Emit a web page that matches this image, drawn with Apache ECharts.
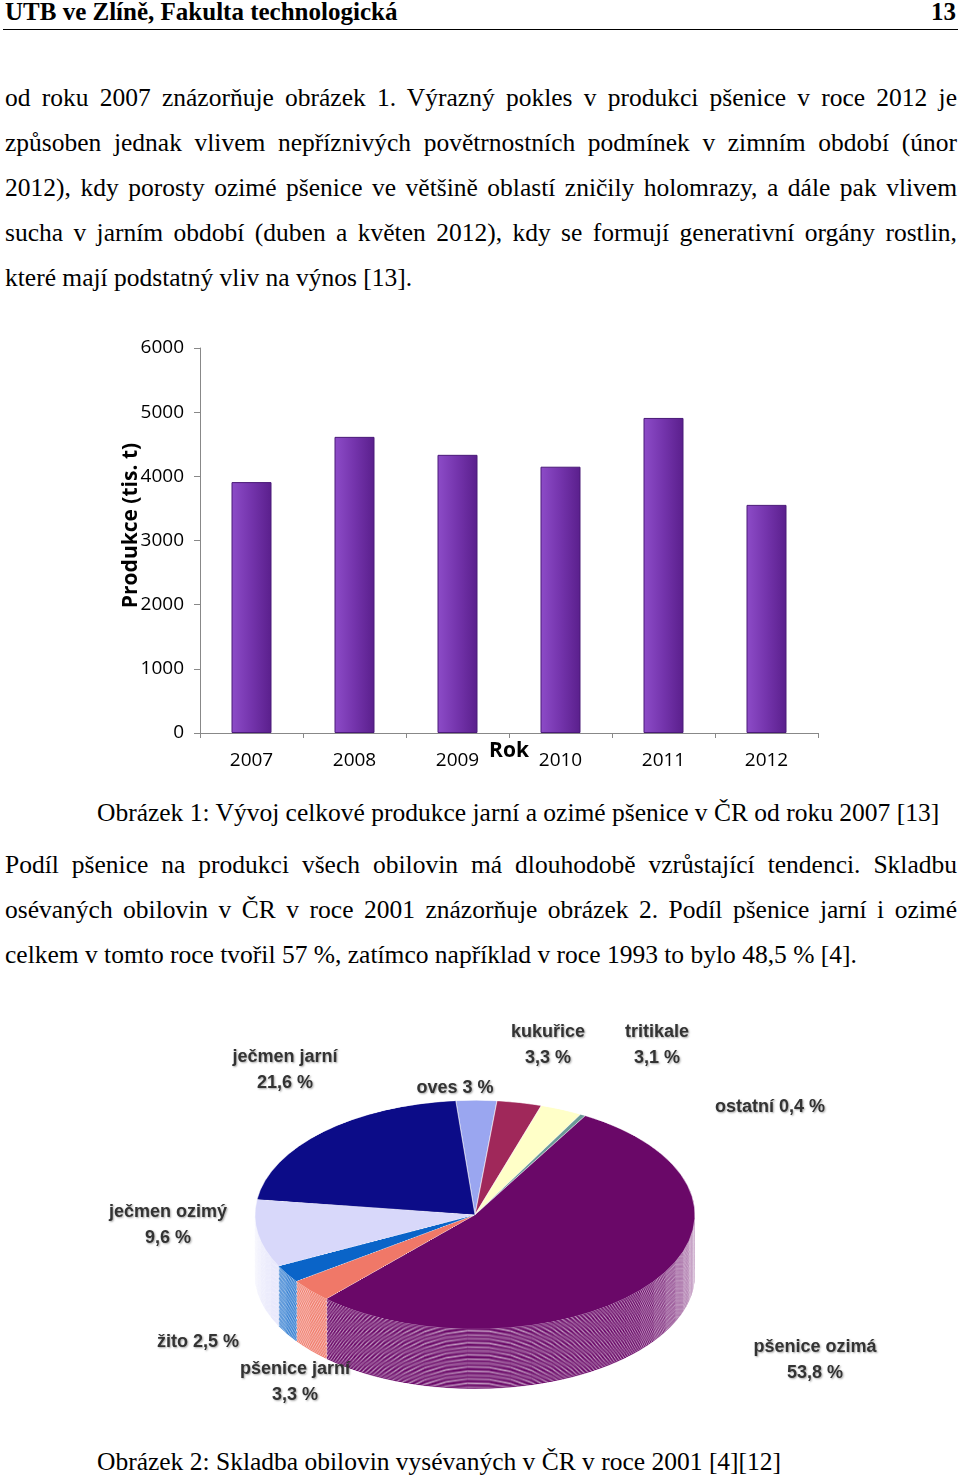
<!DOCTYPE html>
<html><head><meta charset="utf-8">
<script src="https://cdn.jsdelivr.net/npm/echarts@6/dist/echarts.min.js"></script>
<style>
body{margin:0;width:960px;height:1478px;position:relative;background:#fff;font-family:"Liberation Serif","DejaVu Serif",serif;overflow:hidden}
.l{position:absolute;left:5px;width:952px;font-size:25.5px;white-space:nowrap;text-align:justify;text-align-last:justify;line-height:30px}
.n{text-align-last:left}
#bar{position:absolute;left:0;top:320px;width:960px;height:470px}
#pie3{position:absolute;left:0;top:1000px;width:960px;height:800px;transform:scaleY(0.52);transform-origin:0 0}
#pielab{position:absolute;left:0;top:1000px;width:960px;height:430px}
</style></head><body>
<div style="position:absolute;left:5px;top:-2px;font-weight:bold;font-size:25px">UTB ve Zlíně, Fakulta technologická</div>
<div style="position:absolute;right:4px;top:-2px;font-weight:bold;font-size:25px">13</div>
<div style="position:absolute;left:3px;top:29px;width:955px;border-top:1.5px solid #000"></div>
<div class="l" style="top:83px">od roku 2007 znázorňuje obrázek 1. Výrazný pokles v produkci pšenice v roce 2012 je</div>
<div class="l" style="top:128px">způsoben jednak vlivem nepříznivých povětrnostních podmínek v zimním období (únor</div>
<div class="l" style="top:173px">2012), kdy porosty ozimé pšenice ve většině oblastí zničily holomrazy, a dále pak vlivem</div>
<div class="l" style="top:218px">sucha v jarním období (duben a květen 2012), kdy se formují generativní orgány rostlin,</div>
<div class="l n" style="top:263px">které mají podstatný vliv na výnos [13].</div>
<div id="bar"></div>
<div class="l n" style="top:798px;left:97px">Obrázek 1: Vývoj celkové produkce jarní a ozimé pšenice v ČR od roku 2007 [13]</div>
<div class="l" style="top:850px">Podíl pšenice na produkci všech obilovin má dlouhodobě vzrůstající tendenci. Skladbu</div>
<div class="l" style="top:895px">osévaných obilovin v ČR v roce 2001 znázorňuje obrázek 2. Podíl pšenice jarní i ozimé</div>
<div class="l n" style="top:940px">celkem v tomto roce tvořil 57 %, zatímco například v roce 1993 to bylo 48,5 % [4].</div>
<div id="pie3"></div>
<div id="pielab"></div>
<div class="l n" style="top:1447px;left:97px">Obrázek 2: Skladba obilovin vysévaných v ČR v roce 2001 [4][12]</div>
<script>
var years = ['2007','2008','2009','2010','2011','2012'];
var production = [3910, 4615, 4335, 4150, 4910, 3555];
var crops = ['oves','kukuřice','tritikale','ostatní','pšenice ozimá','pšenice jarní','žito','ječmen ozimý','ječmen jarní'];
var shares = [3, 3.3, 3.1, 0.4, 53.8, 3.3, 2.5, 9.6, 21.6];
var shareLabels = ['oves 3 %','kukuřice\n3,3 %','tritikale\n3,1 %','ostatní 0,4 %','pšenice ozimá\n53,8 %','pšenice jarní\n3,3 %','žito 2,5 %','ječmen ozimý\n9,6 %','ječmen jarní\n21,6 %'];
var cropColors = ['#9aa6f0','#a0285a','#ffffc8','#6a9a98','#6a0868','#f07868','#0a64c8','#d8d8fa','#0c0c88'];
var labelXY = [[455,88],[548,45],[657,45],[770,107],[815,360],[295,382],[198,342],[168,225],[285,70]];

var bar = echarts.init(document.getElementById('bar'));
bar.setOption({
  animation:false,
  grid:{left:200,right:142,top:28,bottom:57},
  xAxis:{type:'category',data:years,axisTick:{show:true,lineStyle:{color:'#888'}},
    axisLine:{lineStyle:{color:'#888'}},axisLabel:{color:'#000',fontSize:19,fontFamily:'Open Sans',margin:18},
    name:'Rok',nameLocation:'middle',nameGap:8,nameMoveOverlap:false,nameTextStyle:{fontSize:21,fontWeight:'bold',fontFamily:'Open Sans',color:'#000',verticalAlign:'top'}},
  yAxis:{type:'value',min:0,max:6000,interval:1000,axisLine:{show:true,lineStyle:{color:'#888'}},axisTick:{show:true,length:6,lineStyle:{color:'#888'}},
    splitLine:{show:false},axisLabel:{color:'#000',fontSize:19,fontFamily:'Open Sans',margin:16,formatter:function(v){return String(v);}},
    name:'Produkce (tis. t)',nameLocation:'middle',nameGap:58,nameMoveOverlap:false,nameTextStyle:{fontSize:21,fontWeight:'bold',fontFamily:'Open Sans',color:'#000',padding:[0,0,0,30]}},
  series:[{type:'bar',data:production,barWidth:40,
    itemStyle:{color:new echarts.graphic.LinearGradient(0,0,1,0,[{offset:0,color:'#8d4cc8'},{offset:0.5,color:'#7434ac'},{offset:1,color:'#5a1f8c'}]),
      borderColor:'#4a1a78',borderWidth:1}}]
});

var pie = echarts.init(document.getElementById('pie3'));
function shade(c,f){var n=parseInt(c.slice(1),16);var r=(n>>16)*f|0,g=((n>>8)&255)*f|0,b=(n&255)*f|0;return 'rgb('+r+','+g+','+b+')';}
var series=[];
var depth=115, steps=45;
for(var s=steps;s>=0;s--){
  var top=s===0;
  series.push({type:'pie',silent:true,startAngle:95,radius:[0,220],center:[475,413+depth*s/steps],
    selectedOffset:22,label:{show:false},labelLine:{show:false},
    data:crops.map(function(n,i){return {name:n,value:shares[i],selected:i===4||i===0||i===1,
      itemStyle:{color:top?cropColors[i]:shade(cropColors[i],0.6),borderColor:top?'rgba(255,255,255,0.6)':shade(cropColors[i],0.6),borderWidth:top?1:0}};})});
}
pie.setOption({animation:false,series:series});

var lab = echarts.init(document.getElementById('pielab'));
lab.setOption({animation:false,graphic:crops.map(function(n,i){return {type:'text',x:labelXY[i][0],y:labelXY[i][1],
  style:{text:shareLabels[i],align:'center',verticalAlign:'middle',font:'bold 18px "Liberation Sans Narrow","Liberation Sans",sans-serif',fill:'#333',lineHeight:26,
  textShadowColor:'rgba(0,0,0,0.35)',textShadowBlur:2,textShadowOffsetX:1,textShadowOffsetY:1}};})});
</script>
</body></html>
